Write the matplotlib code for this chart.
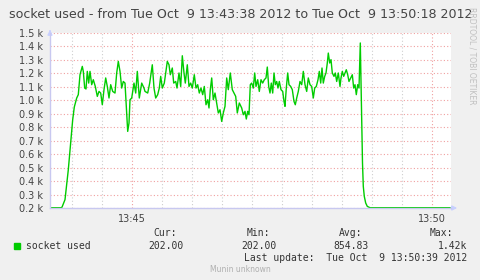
import matplotlib
matplotlib.use('Agg')
import matplotlib.pyplot as plt

# seconds after 13:43:38 and socket count
t_sec = [0, 11, 12, 15, 18.3, 20.7, 22.7, 24.3, 26.7, 28.3,
         30, 32.3, 33.3, 34.7, 36, 37.3, 38.7, 40, 41.7, 43.3,
         45.3, 47.3, 49, 50.7, 52.3, 54, 55.7, 57.3, 59, 60.7,
         62.7, 65, 66.7, 68.3, 70, 71.7, 73.3, 75, 76.7, 77.7,
         79, 80, 81.7, 84, 85.7, 87.3, 89.3, 91.7, 94, 95,
         97.7, 99.7, 102.3, 104, 105.7, 107.7, 109.3, 110.7, 112.3, 114.3,
         115.7, 117.3, 119, 120.3, 122.3, 123.7, 125.7, 127, 129, 130.7,
         132.3, 134, 135.3, 137.3, 139, 140.7, 142.3, 144.3, 146, 147.7,
         149.3, 151, 152.7, 154.3, 156, 157.7, 159, 160.3, 161.7, 163.3,
         165, 166.7, 168.3, 170, 171.7, 173.3, 175, 176.7, 178.3, 180.3,
         182.3, 184, 185.7, 187.3, 189.3, 191.7, 193.3, 195, 196.3, 197.7,
         199, 200.3, 201.7, 203.3, 204.7, 206, 207.7, 209.3, 211, 212.7,
         214.3, 216, 217.3, 218.7, 220, 221.3, 222.7, 224, 225.3, 226.7,
         228, 229.3, 231, 232.7, 234, 235, 236.3, 237.7, 239, 240.7,
         242.3, 244, 245.3, 246.7, 248.3, 250, 251.7, 253.3, 255, 256.7,
         258.3, 260, 261.7, 263.3, 264.7, 266.3, 268, 269.3, 270.7, 272,
         273.3, 274.7, 276, 277.3, 278.3, 279.7, 281, 282.3, 284, 285.3,
         286.7, 288.3, 290, 291, 292.3, 293.7, 295, 296.3, 297.7, 299,
         300.7, 302.3, 303.7, 305, 306.3, 307.7, 309, 310.3, 311.3, 311.9,
         312.5, 313.3, 314.3, 315.7, 317.3, 320, 401]
sockets = [202, 202, 206, 262, 484, 683, 856, 950, 1017, 1042,
           1190, 1252, 1215, 1091, 1084, 1215, 1128, 1215, 1116, 1153,
           1103, 1029, 1066, 1054, 967, 1079, 1166, 1103, 1017, 1116,
           1066, 1054, 1203, 1289, 1215, 1091, 1140, 1128, 906, 769,
           831, 1004, 1017, 1128, 1054, 1215, 1017, 1128, 1091, 1066,
           1054, 1128, 1264, 1091, 1017, 1042, 1091, 1178, 1091, 1128,
           1203, 1289, 1264, 1190, 1240, 1128, 1140, 1091, 1203, 1103,
           1331, 1203, 1128, 1264, 1103, 1128, 1091, 1190, 1091, 1116,
           1054, 1091, 1042, 1103, 967, 1004, 943, 1079, 1166, 1004,
           1054, 980, 906, 930, 843, 906, 955, 1166, 1079, 1203,
           1079, 1054, 1029, 906, 980, 943, 893, 918, 861, 918,
           893, 1116, 1128, 1091, 1203, 1103, 1153, 1066, 1153, 1128,
           1153, 1166, 1247, 1103, 1054, 1128, 1054, 1203, 1116, 1140,
           1091, 1140, 1079, 1066, 992, 955, 1091, 1203, 1116, 1103,
           1079, 992, 967, 1017, 1066, 1140, 1116, 1215, 1116, 1066,
           1166, 1116, 1103, 1017, 1091, 1103, 1153, 1215, 1128, 1240,
           1128, 1178, 1203, 1277, 1351, 1277, 1302, 1203, 1178, 1203,
           1140, 1203, 1103, 1166, 1215, 1178, 1203, 1227, 1190, 1140,
           1166, 1190, 1091, 1116, 1042, 1116, 1091, 1426, 1000, 700,
           534, 360, 286, 237, 212, 202, 202]

y_ticks = list(range(200, 1501, 100))
x_tick_pos = [82, 382]
x_tick_labels = ['13:45', '13:50']
legend_heads = ['Cur:', 'Min:', 'Avg:', 'Max:']
legend_vals = ['202.00', '202.00', '854.83', '1.42k']

W, H = 481, 280
fig = plt.figure(figsize=(W / 100, H / 100), dpi=100, facecolor='#f0f0f0')
ax = fig.add_axes([50 / W, (H - 208) / H, 401 / W, 175 / H])
ax.set_facecolor('white')
ax.set_xlim(0, 401)
ax.set_ylim(200, 1500)

# grid
for v in y_ticks:
    ax.axhline(v, color='#f0a0a0', lw=0.8, ls=(0, (1, 2)), zorder=1)
for s in range(22, 401, 30):
    if s in x_tick_pos:
        ax.axvline(s, color='#f0a0a0', lw=0.8, ls=(0, (1, 2)), zorder=1)
    else:
        ax.axvline(s, color='#cfcfcf', lw=0.8, ls=(0, (1, 2)), zorder=1)

ax.plot(t_sec, sockets, color='#00cc00', lw=1.0, zorder=3)

for sp in ax.spines.values():
    sp.set_visible(False)
ax.plot([0, 0], [200, 1500], color='#c8c8f0', lw=1, clip_on=False, zorder=4)
ax.plot([0, 401], [200, 200], color='#c8c8f0', lw=1, clip_on=False, zorder=4)
ax.annotate('', xy=(0, 1545), xytext=(0, 1490), annotation_clip=False,
            arrowprops=dict(arrowstyle='-|>', color='#c8d0ff', lw=1, mutation_scale=7))
ax.annotate('', xy=(410, 200), xytext=(398, 200), annotation_clip=False,
            arrowprops=dict(arrowstyle='-|>', color='#c8d0ff', lw=1, mutation_scale=7))

ax.set_yticks(y_ticks)
ax.set_yticklabels([f'{v / 1000:.1f} k' for v in y_ticks])
ax.set_xticks(x_tick_pos)
ax.set_xticklabels(x_tick_labels)
ax.tick_params(axis='both', length=0, labelsize=7, colors='#444444')
ax.tick_params(axis='y', pad=5)
ax.tick_params(axis='x', pad=4)


def px(x, y):
    return x / W, 1 - y / H


fig.text(*px(240.5, 14), 'socket used - from Tue Oct  9 13:43:38 2012 to Tue Oct  9 13:50:18 2012',
         ha='center', va='center', fontsize=9.1, color='#444444')
fig.text(*px(472, 56), 'RRDTOOL / TOBI OETIKER', rotation=270, ha='center', va='center',
         fontsize=5.5, color='#c0c0c0')

mono = dict(family='DejaVu Sans Mono', fontsize=7, color='#333333', va='center')
head_right = [177, 270, 362, 453]
val_right = [184, 277, 369, 467]
for h, v, hr, vr in zip(legend_heads, legend_vals, head_right, val_right):
    fig.text(*px(hr, 233.5), h, ha='right', **mono)
    fig.text(*px(vr, 245.7), v, ha='right', **mono)
fig.patches.append(plt.Rectangle(px(14, 248.5), 6 / W, 6 / H, transform=fig.transFigure,
                                 color='#00cc00', figure=fig))
fig.text(*px(26.5, 245.7), 'socket used', ha='left', **mono)
fig.text(*px(467, 257.7), 'Last update:  Tue Oct  9 13:50:39 2012', ha='right', **mono)
fig.text(*px(240.5, 269), 'Munin unknown', ha='center', va='center', fontsize=5.5,
         color='#b0b0b0')

fig.savefig('out.png', dpi=100, facecolor=fig.get_facecolor())
